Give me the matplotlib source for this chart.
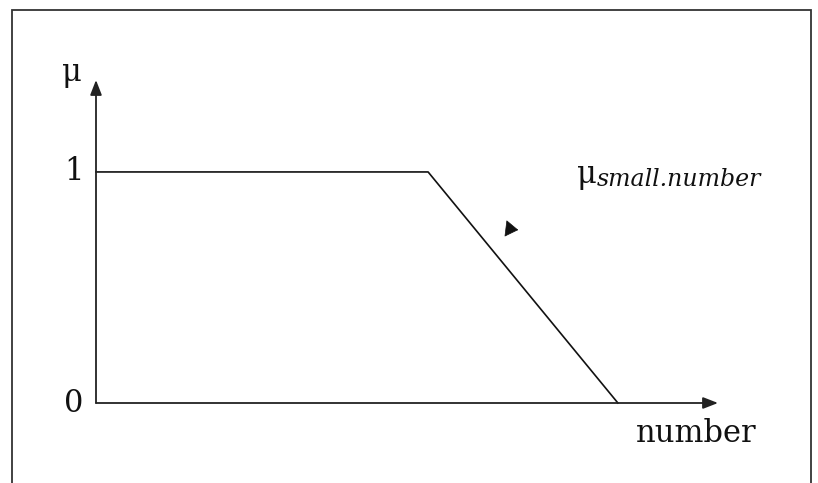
import matplotlib
matplotlib.use("Agg")
import matplotlib.pyplot as plt
from matplotlib.patches import Rectangle

# membership function of "small number"
number = [0, 7, 11]
mu = [1, 1, 0]
tick_vals = [0, 1]
tick_labels = ["0", "1"]
x_max = 13.11
y_max = 1.398

plt.rcParams['font.family'] = ['DejaVu Serif']

W, H = 818, 483
fig = plt.figure(figsize=(W/100, H/100), dpi=100)

# outer frame (bottom edge runs off the picture)
fig.patches.append(Rectangle((12/W, -0.05), (811-12)/W, (483-10)/H + 0.05,
                             transform=fig.transFigure, fill=False,
                             edgecolor="#333333", lw=1.3))

ax = fig.add_axes([96/W, (H-403)/H, (718-96)/W, (403-80)/H])
ax.set_xlim(0, x_max)
ax.set_ylim(0, y_max)
ax.axis('off')

arrow = dict(arrowstyle="-|>,head_length=0.9,head_width=0.35", color="#222222",
             lw=1.3, shrinkA=0, shrinkB=0)
ax.annotate("", xy=(1, 0), xytext=(0, 0), xycoords="axes fraction", arrowprops=arrow)
ax.annotate("", xy=(0, 1), xytext=(0, 0), xycoords="axes fraction", arrowprops=arrow)

ax.plot(number, mu, color="#111111", lw=1.2, clip_on=False)

for v, lab in zip(tick_vals, tick_labels):
    ax.text(-0.46, v, lab, fontsize=22, ha="center", va="center", color="#111111")

ax.text(-0.50, 1.43, "μ", fontsize=22, ha="center", va="center", color="#111111")
ax.text(12.66, -0.13, "number", fontsize=22, ha="center", va="center", color="#111111")

# label of the curve: upright mu with italic subscript
ax.text(10.14, 0.952, "μ", fontsize=22, ha="left", va="baseline", color="#111111")
ax.text(10.56, 0.939, "small.number", fontsize=17, style="italic", ha="left",
        va="baseline", color="#111111")

# small pointer head next to the slope
ax.annotate("", xy=(8.90, 0.749), xytext=(8.66, 0.755),
            arrowprops=dict(arrowstyle="-|>,head_length=0.85,head_width=0.55",
                            color="#111111", lw=0.5, shrinkA=0, shrinkB=0))

fig.savefig("out.png", dpi=100)
